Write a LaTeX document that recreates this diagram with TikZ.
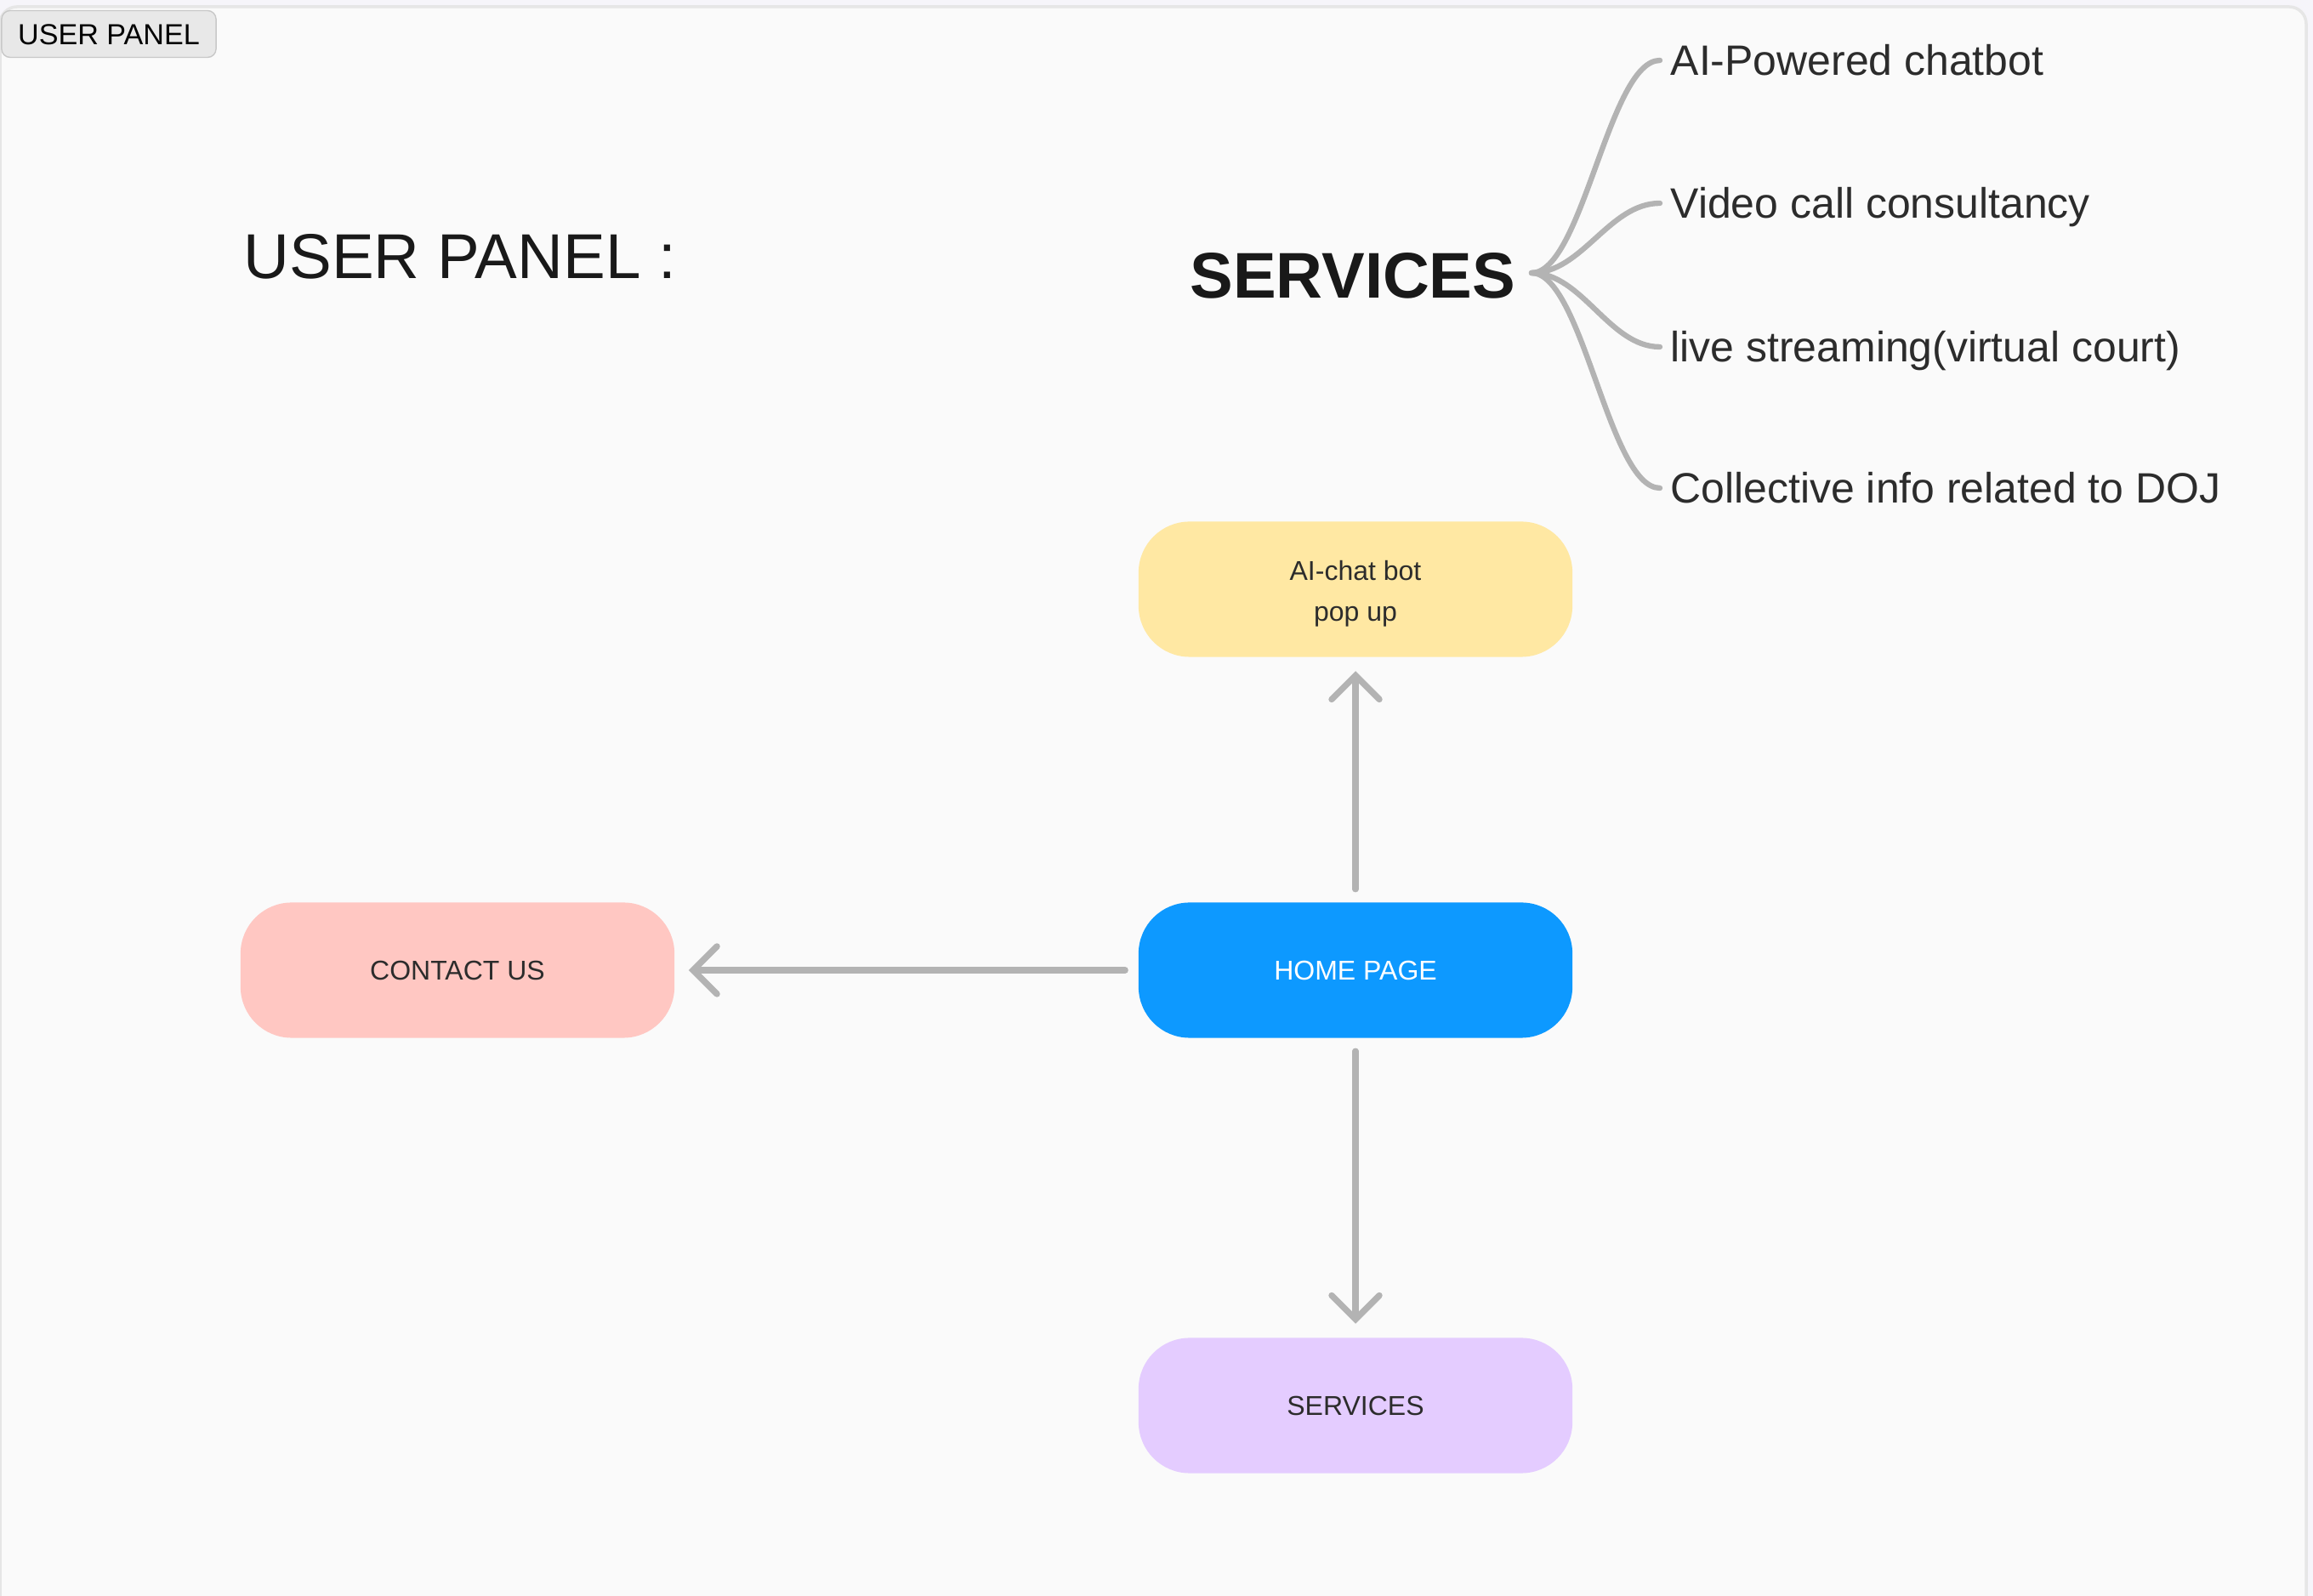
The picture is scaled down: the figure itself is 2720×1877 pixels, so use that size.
\documentclass[tikz,border=0pt]{standalone}
\usepackage{fontspec}
\setmainfont{Liberation Sans}
\usetikzlibrary{arrows.meta}
\definecolor{outerbg}{HTML}{F6F5FA}
\definecolor{cardbg}{HTML}{FAFAFA}
\definecolor{cardline}{HTML}{E6E6E6}
\definecolor{tabfill}{HTML}{E8E8E8}
\definecolor{tabline}{HTML}{C8C8C8}
\definecolor{linkgray}{HTML}{B3B3B3}
\definecolor{txtdark}{HTML}{2C2C2C}
\definecolor{fjyellow}{HTML}{FFE8A3}
\definecolor{fjblue}{HTML}{0D99FF}
\definecolor{fjred}{HTML}{FFC7C2}
\definecolor{fjviolet}{HTML}{E4CCFF}

\begin{document}
\begin{tikzpicture}[x=0.01cm,y=-0.01cm,
  box/.style={rounded corners=0.6cm, minimum width=5.1cm, minimum height=1.59cm, align=center, text=txtdark, font=\fontsize{9.1}{13.7}\selectfont},
  link/.style={draw=linkgray, line width=2.1pt, line cap=round, -{Straight Barb[length=0.28cm,width=0.56cm,line cap=round]}, shorten >=0.16cm, shorten <=0.15cm},
  branch/.style={draw=linkgray, line width=1.8pt, line cap=round},
  leaf/.style={anchor=west, inner xsep=0.12cm, inner ysep=0pt, text height=10.2pt, text depth=0pt, text=txtdark, font=\fontsize{14.2}{16}\selectfont}]
\useasboundingbox (0,0) rectangle (2720,1877);
\fill [outerbg] (0,0) rectangle (2720,1877);
\draw [cardline, fill=cardbg, line width=1pt, rounded corners=0.2cm] (0,1900) -- (0,8) -- (2712,8) -- (2712,1900);

% tab
\node (tab) [draw=tabline, fill=tabfill, rounded corners=0.1cm, minimum width=2.52cm, minimum height=0.55cm, inner sep=0pt, text height=7pt, text depth=0pt, font=\fontsize{9.7}{11}\selectfont] at (128,40) {USER PANEL};

% headings
\node (title) [anchor=west, inner sep=0pt, text height=15.2pt, text depth=0pt, font=\fontsize{21.2}{24}\selectfont, text=black!90] at (286,301) {USER PANEL :};
\node (srv) [anchor=east, inner sep=0pt, text height=15.5pt, text depth=0pt, font=\bfseries\fontsize{21.6}{24}\selectfont, text=black!90] at (1783,323) {SERVICES};
\coordinate (root) at (1801,321);

% services list
\node (l1) [leaf] at (1952,71) {AI-Powered chatbot};
\node (l2) [leaf] at (1952,239) {Video call consultancy};
\node (l3) [leaf] at (1952,408) {live streaming(virtual court)};
\node (l4) [leaf] at (1952,574) {Collective info related to DOJ};
\foreach \l in {l1,l2,l3,l4}
  \draw [branch] (root) .. controls +(60,0) and +(-60,0) .. (\l.west);

% flow
\node (chat) [box, fill=fjyellow, text height=23.2pt] at (1594,693) {AI-chat bot\\pop up};
\node (home) [box, fill=fjblue, text=white] at (1594,1141) {HOME PAGE};
\node (contact) [box, fill=fjred] at (538,1141) {CONTACT US};
\node (svc) [box, fill=fjviolet] at (1594,1653) {SERVICES};

\draw [link] (home) -- (chat);
\draw [link] (home) -- (contact);
\draw [link] (home) -- (svc);

\end{tikzpicture}
\end{document}
